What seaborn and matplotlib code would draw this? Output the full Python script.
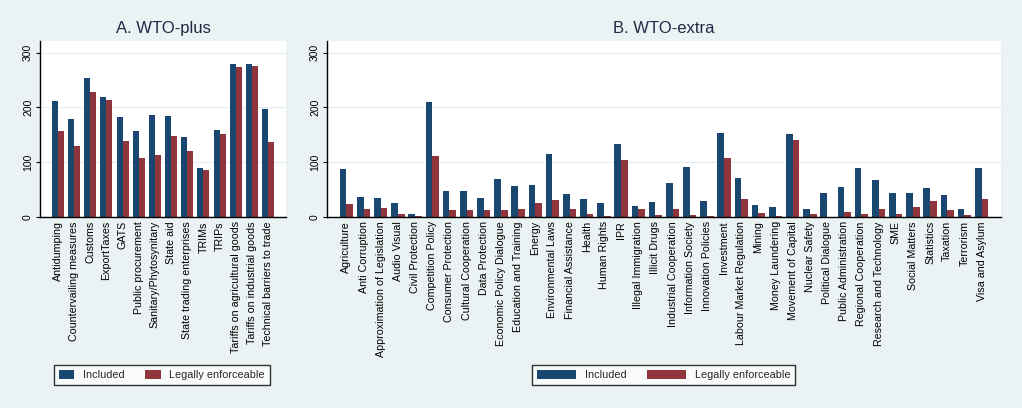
import matplotlib
matplotlib.use("Agg")
import matplotlib.pyplot as plt
import seaborn as sns
import pandas as pd
from matplotlib.patches import Patch

# ---------------- data ----------------
plus_categories = ["Antidumping", "Countervailing measures", "Customs", "ExportTaxes", "GATS",
                   "Public procurement", "Sanitary/Phytosynitary", "State aid",
                   "State trading enterprises", "TRIMs", "TRIPs",
                   "Tariffs on agricultural goods", "Tariffs on industrial goods",
                   "Technical barriers to trade"]
plus_included = [212, 179, 254, 219, 183, 157, 186, 184, 146, 90, 159, 279, 279, 197]
plus_enforceable = [157, 130, 228, 214, 139, 108, 113, 148, 121, 86, 152, 274, 276, 137]

extra_categories = ["Agriculture", "Anti Corruption", "Approximation of Legislation", "Audio Visual",
                    "Civil Protection", "Competition Policy", "Consumer Protection",
                    "Cultural Cooperation", "Data Protection", "Economic Policy Dialogue",
                    "Education and Training", "Energy", "Environmental Laws",
                    "Financial Assistance", "Health", "Human Rights", "IPR",
                    "Illegal Immigration", "Illicit Drugs", "Industrial Cooperation",
                    "Information Society", "Innovation Policies", "Investment",
                    "Labour Market Regulation", "Mining", "Money Laundering",
                    "Movement of Capital", "Nuclear Safety", "Political Dialogue",
                    "Public Administration", "Regional Cooperation", "Research and Technology",
                    "SME", "Social Matters", "Statistics", "Taxation", "Terrorism",
                    "Visa and Asylum"]
extra_included = [88, 36, 34, 25, 5, 209, 47, 47, 34, 69, 56, 58, 115, 42, 33, 25, 134,
                  20, 27, 62, 91, 30, 153, 72, 22, 19, 151, 15, 43, 54, 89, 68, 43, 43,
                  53, 40, 15, 89]
extra_enforceable = [23, 14, 16, 5, 2, 112, 12, 12, 12, 12, 14, 25, 31, 14, 5, 2, 104,
                     14, 4, 15, 4, 2, 107, 32, 7, 2, 140, 6, 0, 9, 6, 15, 6, 19,
                     29, 13, 4, 33]

series_names = ["Included", "Legally enforceable"]
titles = ["A. WTO-plus", "B. WTO-extra"]

# ---------------- style ----------------
NAVY = "#1a476f"
MAROON = "#90353b"
BG = "#eaf2f3"
TITLE_C = "#1e2a44"

sns.set_theme(style="white")
plt.rcParams["font.family"] = ["Liberation Sans", "DejaVu Sans"]

W, H = 1022, 408
fig = plt.figure(figsize=(W / 100, H / 100), dpi=100)
fig.patch.set_facecolor(BG)


def make_df(cats, inc, enf):
    return pd.DataFrame({
        "category": cats * 2,
        "value": inc + enf,
        "series": [series_names[0]] * len(cats) + [series_names[1]] * len(cats),
    })


def panel(rect, cats, inc, enf, title, margin, width):
    ax = fig.add_axes(rect)
    ax.set_facecolor("white")
    df = make_df(cats, inc, enf)
    sns.barplot(data=df, x="category", y="value", hue="series", order=cats,
                hue_order=series_names, palette=[NAVY, MAROON], saturation=1,
                width=width, gap=0, legend=False, ax=ax, errorbar=None)
    for p in ax.patches:
        p.set_edgecolor("none")
        p.set_linewidth(0)
    ax.set_xlim(-margin, len(cats) - 1 + margin)
    ax.set_ylim(0, 321)
    ax.set_yticks([0, 100, 200, 300])
    ax.yaxis.grid(True, color="#e6eef0", lw=0.9)
    ax.set_axisbelow(True)
    ax.set_xlabel("")
    ax.set_ylabel("")
    for s in ["top", "right"]:
        ax.spines[s].set_visible(False)
    for s in ["left", "bottom"]:
        ax.spines[s].set_color("black")
        ax.spines[s].set_linewidth(1.0)
    ax.tick_params(axis="x", length=0, labelsize=7.7, rotation=90, pad=3, colors="black")
    ax.tick_params(axis="y", length=3, width=0.8, labelsize=7.5, pad=2, colors="black", left=True)
    for lab in ax.get_yticklabels():
        lab.set_rotation(90)
        lab.set_va("center")
    ax.set_title(title, fontsize=12, color=TITLE_C, pad=6)
    return ax


axA = panel([40 / W, 1 - 217 / H, 246 / W, 176 / H], plus_categories, plus_included,
            plus_enforceable, titles[0], 1.11, 0.74)
axB = panel([327 / W, 1 - 217 / H, 674 / W, 176 / H], extra_categories, extra_included,
            extra_enforceable, titles[1], 1.13, 0.78)

handles = [Patch(facecolor=NAVY, edgecolor="none"), Patch(facecolor=MAROON, edgecolor="none")]
for cx, hl in [(162, 1.4), (663.5, 3.6)]:
    leg = fig.legend(handles, series_names, loc="center", bbox_to_anchor=(cx / W, 1 - 375 / H),
                     ncol=2, fontsize=7.8, handlelength=hl, handleheight=0.9,
                     handletextpad=0.8, columnspacing=1.9, frameon=True, fancybox=False,
                     borderpad=0.45, borderaxespad=0)
    fr = leg.get_frame()
    fr.set_edgecolor("black")
    fr.set_facecolor("white")
    fr.set_linewidth(1.0)

fig.savefig("out.png", dpi=100, facecolor=BG)
